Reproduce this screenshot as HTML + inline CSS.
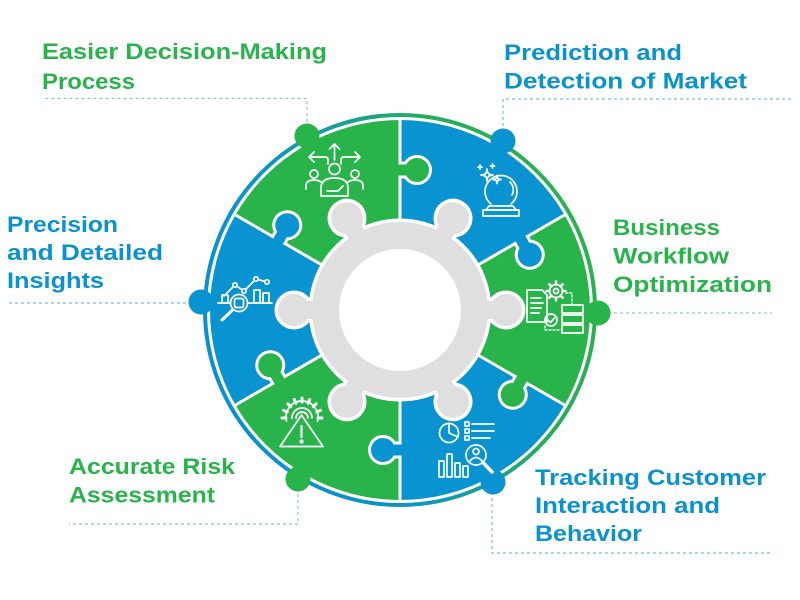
<!DOCTYPE html>
<html><head><meta charset="utf-8">
<style>html,body{margin:0;padding:0;background:#fff;width:800px;height:600px;overflow:hidden}svg{display:block}</style>
</head><body>
<svg width="800" height="600" viewBox="0 0 800 600" xmlns="http://www.w3.org/2000/svg">
<defs>
<linearGradient id="rg" gradientUnits="userSpaceOnUse" x1="220" y1="380" x2="590" y2="240">
<stop offset="0" stop-color="#0990d2"/><stop offset="0.3" stop-color="#0b95c6"/><stop offset="0.5" stop-color="#14a09a"/><stop offset="0.7" stop-color="#22ad62"/><stop offset="1" stop-color="#2bb24c"/>
</linearGradient>
<g id="gear">
<circle cx="400" cy="310" r="88"/>
<g><rect x="480" y="301" width="26" height="18"/><circle cx="506" cy="310" r="16"/></g>
<g transform="rotate(60 400 310)"><rect x="480" y="301" width="26" height="18"/><circle cx="506" cy="310" r="16"/></g>
<g transform="rotate(120 400 310)"><rect x="480" y="301" width="26" height="18"/><circle cx="506" cy="310" r="16"/></g>
<g transform="rotate(180 400 310)"><rect x="480" y="301" width="26" height="18"/><circle cx="506" cy="310" r="16"/></g>
<g transform="rotate(240 400 310)"><rect x="480" y="301" width="26" height="18"/><circle cx="506" cy="310" r="16"/></g>
<g transform="rotate(300 400 310)"><rect x="480" y="301" width="26" height="18"/><circle cx="506" cy="310" r="16"/></g>
</g>
</defs>

<!-- outer ring -->
<circle cx="400" cy="310" r="195" fill="none" stroke="url(#rg)" stroke-width="4"/>

<!-- sectors -->
<path d="M400,310 L400,120 A190,190 0 0,0 235.46,215 Z" fill="#29b34b"/>
<path d="M400,310 L564.54,215 A190,190 0 0,0 400,120 Z" fill="#0a93d1"/>
<path d="M400,310 L564.54,405 A190,190 0 0,0 564.54,215 Z" fill="#29b34b"/>
<path d="M400,310 L400,500 A190,190 0 0,0 564.54,405 Z" fill="#0a93d1"/>
<path d="M400,310 L235.46,405 A190,190 0 0,0 400,500 Z" fill="#29b34b"/>
<path d="M400,310 L235.46,215 A190,190 0 0,0 235.46,405 Z" fill="#0a93d1"/>

<!-- boundary lines -->
<g stroke="#fff" stroke-width="3">
<line x1="400" y1="310" x2="400" y2="119"/>
<line x1="400" y1="310" x2="565.4" y2="214.5"/>
<line x1="400" y1="310" x2="565.4" y2="405.5"/>
<line x1="400" y1="310" x2="400" y2="501"/>
<line x1="400" y1="310" x2="234.6" y2="405.5"/>
<line x1="400" y1="310" x2="234.6" y2="214.5"/>
</g>

<!-- tabs -->
<g transform="translate(400,170) rotate(0)"><rect x="0" y="-7" width="17" height="14" fill="#29b34b" stroke="#fff" stroke-width="3"/><circle cx="17" cy="0" r="13.5" fill="#29b34b" stroke="#fff" stroke-width="3"/><rect x="-3" y="-5.5" width="20" height="11" fill="#29b34b"/></g>
<g transform="translate(521.24,240) rotate(60)"><rect x="0" y="-7" width="17" height="14" fill="#0a93d1" stroke="#fff" stroke-width="3"/><circle cx="17" cy="0" r="13.5" fill="#0a93d1" stroke="#fff" stroke-width="3"/><rect x="-3" y="-5.5" width="20" height="11" fill="#0a93d1"/></g>
<g transform="translate(521.24,380) rotate(120)"><rect x="0" y="-7" width="17" height="14" fill="#29b34b" stroke="#fff" stroke-width="3"/><circle cx="17" cy="0" r="13.5" fill="#29b34b" stroke="#fff" stroke-width="3"/><rect x="-3" y="-5.5" width="20" height="11" fill="#29b34b"/></g>
<g transform="translate(400,450) rotate(180)"><rect x="0" y="-7" width="17" height="14" fill="#0a93d1" stroke="#fff" stroke-width="3"/><circle cx="17" cy="0" r="13.5" fill="#0a93d1" stroke="#fff" stroke-width="3"/><rect x="-3" y="-5.5" width="20" height="11" fill="#0a93d1"/></g>
<g transform="translate(278.76,380) rotate(-120)"><rect x="0" y="-7" width="17" height="14" fill="#29b34b" stroke="#fff" stroke-width="3"/><circle cx="17" cy="0" r="13.5" fill="#29b34b" stroke="#fff" stroke-width="3"/><rect x="-3" y="-5.5" width="20" height="11" fill="#29b34b"/></g>
<g transform="translate(278.76,240) rotate(-60)"><rect x="0" y="-7" width="17" height="14" fill="#0a93d1" stroke="#fff" stroke-width="3"/><circle cx="17" cy="0" r="13.5" fill="#0a93d1" stroke="#fff" stroke-width="3"/><rect x="-3" y="-5.5" width="20" height="11" fill="#0a93d1"/></g>

<!-- gear -->
<use href="#gear" fill="#fff" stroke="#fff" stroke-width="7"/>
<use href="#gear" fill="#dfdfdf"/>
<circle cx="400" cy="310" r="61" fill="#fff"/>

<!-- leader lines -->
<g fill="none" stroke-width="1.2" stroke-dasharray="3 3">
<path d="M307,128 V98.5 H42" stroke="#86d49c"/>
<path d="M503,132 V99 H793" stroke="#74c2e8"/>
<path d="M192,303 H7" stroke="#74c2e8"/>
<path d="M608,313 H772" stroke="#86d49c"/>
<path d="M298,488 V524 H69" stroke="#86d49c"/>
<path d="M492,492 V553 H773" stroke="#74c2e8"/>
</g>

<!-- outer bumps -->
<circle cx="307" cy="136" r="12.5" fill="#29b34b"/>
<circle cx="503" cy="141" r="12.5" fill="#0a93d1"/>
<circle cx="598" cy="313" r="12.5" fill="#29b34b"/>
<circle cx="201" cy="302" r="12.5" fill="#0a93d1"/>
<circle cx="298" cy="479" r="12.5" fill="#29b34b"/>
<circle cx="493" cy="482" r="12.5" fill="#0a93d1"/>

<!-- icons -->
<g fill="none" stroke="#fff" stroke-width="1.7" stroke-linecap="round" stroke-linejoin="round">
<!-- icon 1 decision -->
<path d="M334.5,160 V144 M329.5,149 L334.5,144 L339.5,149"/>
<path d="M328,164 V160 Q328,157 325,157 H309 M314,152 L309,157 L314,162"/>
<path d="M341,164 V160 Q341,157 344,157 H360 M355,152 L360,157 L355,162"/>
<circle cx="334.5" cy="169" r="5.5"/>
<path d="M321,196 V188 Q321,178 334.5,178 Q348,178 348,188 V196 Z"/>
<path d="M327,191 L338,191 L343,186"/>
<circle cx="314" cy="174" r="4"/>
<path d="M306,189 V186 Q306,180 314,180 Q318,180 321,182"/>
<circle cx="355" cy="174" r="4"/>
<path d="M363,189 V186 Q363,180 355,180 Q351,180 348,182"/>

<!-- icon 2 crystal ball -->
<path d="M491,204 A16,16 0 1,1 511,204"/>
<path d="M510,182 A11,11 0 0,1 512,195"/>
<path d="M489,206 H513 L516,210 H486 Z"/>
<rect x="483" y="210" width="36" height="6"/>
<path d="M487,169 Q487,175 493,175 Q487,175 487,181 Q487,175 481,175 Q487,175 487,169 Z"/>
<path d="M497,175.5 Q497,179.5 501,179.5 Q497,179.5 497,183.5 Q497,179.5 493,179.5 Q497,179.5 497,175.5 Z"/>
<path d="M480,165 V169 M478,167 H482 M492.5,164 V168 M490.5,166 H494.5"/>

<!-- icon 3 workflow -->
<path d="M527,290 H542 L547,295 V322 H527 Z"/>
<path d="M531,298 H541 M531,303 H543 M531,308 H541 M531,313 H539"/>
<circle cx="556" cy="291" r="6.5"/>
<circle cx="556" cy="291" r="2.5"/>
<path stroke-width="2.5" d="M562.5,291 H565.5 M560.6,286.4 L562.7,284.3 M556,284.5 V281.5 M551.4,286.4 L549.3,284.3 M549.5,291 H546.5 M551.4,295.6 L549.3,297.7 M556,297.5 V300.5 M560.6,295.6 L562.7,297.7"/>
<rect x="562" y="305" width="21" height="8"/>
<rect x="562" y="315" width="21" height="8"/>
<rect x="562" y="325" width="21" height="8"/>
<circle cx="551" cy="320" r="6"/>
<path d="M548,320 L550.5,322.5 L554.5,318"/>
<path d="M545,326 V330 H562 M566,293 H572 V305" stroke-dasharray="2 2" stroke-width="1.3"/>

<!-- icon 4 analytics -->
<circle cx="449" cy="433" r="9.5"/>
<path d="M449,433 V423.5 M449,433 L458,437"/>
<rect x="465" y="422" width="4" height="4"/>
<rect x="465" y="429" width="4" height="4"/>
<rect x="465" y="436" width="4" height="4"/>
<path d="M472,424 H494 M472,431 H494 M472,438 H490"/>
<rect x="439" y="461" width="5" height="16"/>
<rect x="447" y="454" width="5" height="23"/>
<rect x="455" y="463" width="5" height="14"/>
<rect x="463" y="466" width="5" height="11"/>
<circle cx="476" cy="455" r="10" fill="#0a93d1"/>
<circle cx="476" cy="451.5" r="3"/>
<path d="M470,461 Q476,454 482,461"/>
<path d="M483,462.5 L492,472" stroke-width="3.5"/>

<!-- icon 5 warning gear -->
<path d="M286.5,421 A16,16 0 1 1 317.5,421"/>
<path stroke-width="3" d="M318,418 H322 M316.78,411.87 L320.48,410.35 M313.31,406.69 L316.14,403.86 M308.12,403.22 L309.65,399.52 M302,402 V398 M295.88,403.22 L294.35,399.52 M290.69,406.69 L287.86,403.86 M287.22,411.87 L283.52,410.35 M286,418 H282"/>
<path d="M292,418 A10,10 0 0 1 312,418 M296,418 A6,6 0 0 1 308,418"/>
<path d="M301.5,415 L323,446.5 H280 Z" fill="#29b34b"/>
<path d="M301.5,426 V437" stroke-width="2.2"/>
<circle cx="301.5" cy="441.5" r="1.3" fill="#fff"/>

<!-- icon 6 chart magnifier -->
<path d="M218,303 H272"/>
<rect x="254" y="290" width="6" height="13"/>
<rect x="263" y="293" width="6" height="10"/>
<rect x="222" y="295" width="6" height="8"/>
<polyline points="224,296 235,285 244,291 256,279 267,282"/>
<circle cx="235" cy="285" r="2.2" fill="#0a93d1"/>
<circle cx="244" cy="291" r="2.2" fill="#0a93d1"/>
<circle cx="256" cy="279" r="2.2" fill="#0a93d1"/>
<circle cx="267" cy="282" r="2.2" fill="#0a93d1"/>
<circle cx="239" cy="303" r="8.5" fill="#0a93d1"/>
<rect x="234.5" y="298.5" width="9" height="9" rx="2"/>
<path d="M233,309.5 L222,320" stroke-width="3"/>
</g>

<!-- text -->
<g font-family="'Liberation Sans', Arial, sans-serif" font-weight="bold" font-size="22.5">
<g fill="#29b34b">
<text x="42" y="59" textLength="285" lengthAdjust="spacingAndGlyphs">Easier Decision-Making</text>
<text x="42" y="89" textLength="93" lengthAdjust="spacingAndGlyphs">Process</text>
<text x="613" y="235" textLength="107" lengthAdjust="spacingAndGlyphs">Business</text>
<text x="613" y="263.5" textLength="116" lengthAdjust="spacingAndGlyphs">Workflow</text>
<text x="613" y="292" textLength="159" lengthAdjust="spacingAndGlyphs">Optimization</text>
<text x="69" y="474" textLength="166" lengthAdjust="spacingAndGlyphs">Accurate Risk</text>
<text x="69" y="502.5" textLength="146" lengthAdjust="spacingAndGlyphs">Assessment</text>
</g>
<g fill="#0a91d0">
<text x="504" y="60" textLength="178" lengthAdjust="spacingAndGlyphs">Prediction and</text>
<text x="504" y="88.5" textLength="243" lengthAdjust="spacingAndGlyphs">Detection of Market</text>
<text x="7" y="232" textLength="111" lengthAdjust="spacingAndGlyphs">Precision</text>
<text x="7" y="260" textLength="156" lengthAdjust="spacingAndGlyphs">and Detailed</text>
<text x="7" y="288" textLength="97" lengthAdjust="spacingAndGlyphs">Insights</text>
<text x="535" y="485" textLength="231" lengthAdjust="spacingAndGlyphs">Tracking Customer</text>
<text x="535" y="513" textLength="185" lengthAdjust="spacingAndGlyphs">Interaction and</text>
<text x="535" y="541" textLength="107" lengthAdjust="spacingAndGlyphs">Behavior</text>
</g>
</g>
</svg>
</body></html>
